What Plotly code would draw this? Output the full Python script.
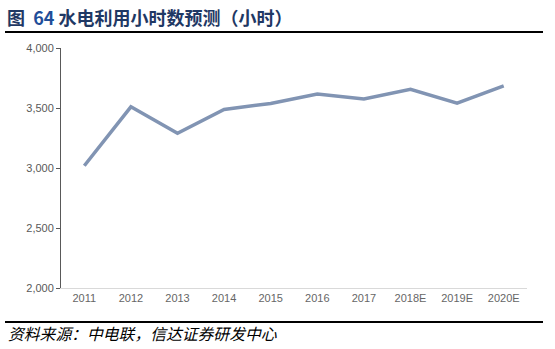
import plotly.graph_objects as go

years = ["2011", "2012", "2013", "2014", "2015", "2016", "2017", "2018E", "2019E", "2020E"]
hours = [3019, 3510, 3289, 3488, 3538, 3616, 3576, 3656, 3540, 3685]
y_ticks = [2000, 2500, 3000, 3500, 4000]
y_tick_text = ["2,000", "2,500", "3,000", "3,500", "4,000"]

W, H = 555, 349
L, R, T, B = 61, 28, 48, 61
pw, ph = W - L - R, H - T - B

def px(x):
    return (x - L) / pw

def py(y):
    return (H - B - y) / ph

fig = go.Figure()
fig.add_trace(go.Scatter(
    x=years, y=hours, mode="lines",
    line=dict(color="#8194B3", width=3.5),
    hoverinfo="skip", showlegend=False,
))

fig.update_layout(
    width=W, height=H,
    margin=dict(l=L, r=R, t=T, b=B),
    paper_bgcolor="white", plot_bgcolor="white",
    font=dict(family="Noto Sans CJK SC, sans-serif", color="#595959", size=11),
    xaxis=dict(
        type="category", showgrid=False, zeroline=False,
        showline=True, linecolor="#D9D9D9", linewidth=1,
        ticks="", tickfont=dict(size=11, color="#666666", family="Liberation Sans, Arial"),
        range=[-0.5, 9.5], fixedrange=True,
    ),
    yaxis=dict(
        range=[2000, 4000], tickvals=y_ticks, ticktext=y_tick_text,
        showgrid=False, zeroline=False,
        showline=True, linecolor="#595959", linewidth=1,
        ticks="outside", ticklen=4, tickcolor="#595959",
        tickfont=dict(size=11, color="#595959", family="Liberation Sans, Arial"),
        fixedrange=True,
    ),
)

# title
fig.add_annotation(
    xref="paper", yref="paper", x=px(5), y=py(17), xanchor="left", yanchor="middle",
    text="<b>图  <span style='color:#1F4E99'>64</span> 水电利用小时数预测（小时）</b>",
    showarrow=False,
    font=dict(family="Noto Sans CJK SC", size=18, color="#1F3864"),
)
# source
fig.add_annotation(
    xref="paper", yref="paper", x=px(6), y=py(333), xanchor="left", yanchor="middle",
    text="<i>资料来源：中电联，信达证券研发中心</i>",
    showarrow=False,
    font=dict(family="Noto Sans CJK SC", size=15.8, color="#000000"),
)
# rules
fig.add_shape(type="line", xref="paper", yref="paper",
              x0=px(5), x1=px(543), y0=py(32), y1=py(32),
              line=dict(color="black", width=2))
fig.add_shape(type="line", xref="paper", yref="paper",
              x0=px(5), x1=px(543), y0=py(322), y1=py(322),
              line=dict(color="black", width=2))

fig.write_html("out.html")
